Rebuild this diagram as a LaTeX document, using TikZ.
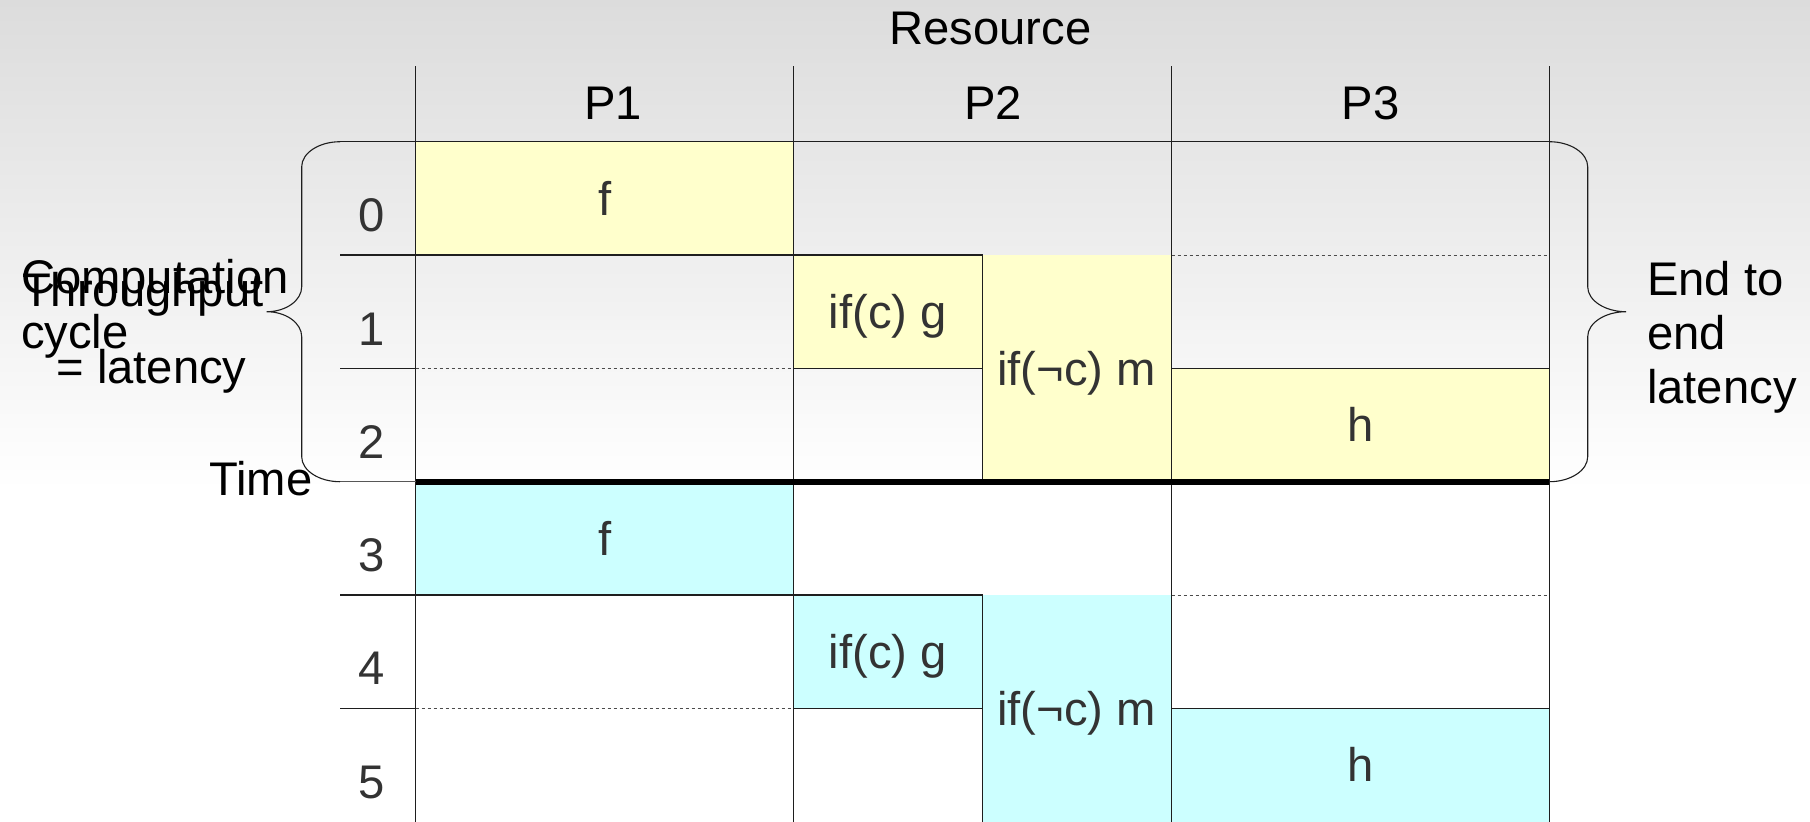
\documentclass[tikz,border=0pt]{standalone}
\usepackage{fontspec}
\setmainfont{Liberation Sans}
\definecolor{cellY}{HTML}{FFFFCC}
\definecolor{cellC}{HTML}{CCFFFF}
\definecolor{ink}{HTML}{333333}
\definecolor{rule}{HTML}{1E1E1E}
\definecolor{bgtop}{HTML}{DCDCDC}
\begin{document}
\begin{tikzpicture}[x=0.5pt,y=-0.5pt,
  txt/.style={inner sep=0pt, anchor=base, font=\fontsize{23.6}{27}\selectfont},
  txtl/.style={txt, anchor=base west},
  head/.style={txt, text=black},
  cell/.style={txt, text=ink},
  grid/.style={draw=rule, line width=0.55pt},
  faint/.style={draw=rule!75, line width=0.55pt},
  dotted row/.style={draw=rule!80, line width=0.5pt, dash pattern=on 1.6pt off 1.4pt},
  brace/.style={draw=rule, line width=0.55pt},
]
% page and background
\useasboundingbox (0,0) rectangle (1810,821);
\fill[white] (0,0) rectangle (1810,821);
\shade[top color=bgtop, bottom color=white] (0,0) rectangle (1810,490);

% first pass (yellow)
\fill[cellY] (415.7,141.7) rectangle (793.3,255);
\fill[cellY] (793.3,255) rectangle (982.4,368.3);
\fill[cellY] (982.4,255) rectangle (1171.7,481.7);
\fill[cellY] (1171.7,368.3) rectangle (1549.3,481.7);
% second pass (cyan)
\fill[cellC] (415.7,481.7) rectangle (793.3,595);
\fill[cellC] (793.3,595) rectangle (982.4,708.3);
\fill[cellC] (982.4,595) rectangle (1171.7,830);
\fill[cellC] (1171.7,708.3) rectangle (1549.3,830);

% cell borders
\foreach \dy in {0,340}{
  \draw[grid] (415.7,141.7+\dy) rectangle (793.3,255+\dy);
  \draw[grid] (793.3,255+\dy) rectangle (982.4,368.3+\dy);
  \draw[grid] (982.4,255+\dy) -- (982.4,481.7+\dy);
  \draw[grid] (1171.7,368.3+\dy) -- (1549.3,368.3+\dy);
}

% columns
\foreach \x in {415.7,793.3,1171.7,1549.3}
  \draw[grid] (\x,66) -- (\x,830);
% top rule
\draw[grid] (340,141.7) -- (1549.3,141.7);
% time column separators
\foreach \y in {255,368.3,595,708.3}
  \draw[grid] (340,\y) -- (415.7,\y);
\draw[faint] (340,481.7) -- (415.7,481.7);
% idle slots
\foreach \dy in {0,340}{
  \draw[dotted row] (1171.7,255+\dy) -- (1549.3,255+\dy);
  \draw[dotted row] (415.7,368.3+\dy) -- (793.3,368.3+\dy);
}
% iteration boundary
\draw[black, line width=3.2pt] (415.7,481.7) -- (1549.3,481.7);

% left brace
\draw[brace] (340,141.7) .. controls (319,141.7) and (301.7,153) .. (301.7,166.7)
  -- (301.7,286.7) .. controls (301.7,300.5) and (286,311.7) .. (266.7,311.7)
  .. controls (286,311.7) and (301.7,323) .. (301.7,336.7)
  -- (301.7,456.7) .. controls (301.7,470.5) and (319,481.7) .. (340,481.7);
% right brace
\draw[brace] (1549.3,141.7) .. controls (1570.4,141.7) and (1587.7,153) .. (1587.7,166.7)
  -- (1587.7,286.7) .. controls (1587.7,300.5) and (1605,311.7) .. (1626,311.7)
  .. controls (1605,311.7) and (1587.7,323) .. (1587.7,336.7)
  -- (1587.7,456.7) .. controls (1587.7,470.5) and (1570.4,481.7) .. (1549.3,481.7);

% headers
\node[head] (res) at (990.3,44.3) {Resource};
\node[head] (p1) at (613.3,119) {P1};
\node[head] (p2) at (993,119) {P2};
\node[head] (p3) at (1370.8,119) {P3};

% time steps
\foreach \t/\y in {0/231.7,1/345,2/458.3,3/571.6,4/684.9,5/798.2}
  \node[cell] (t\t) at (371.5,\y) {\t};

% tasks
\foreach \i/\dy in {0/0,1/340}{
  \node[cell] (f\i) at (605,215+\dy) {f};
  \node[cell] (g\i) at (887.7,328.3+\dy) {if(c) g};
  \node[cell] (m\i) at (1076.7,385+\dy) {if(¬c) m};
  \node[cell] (h\i) at (1360.8,441.7+\dy) {h};
}

% side annotations
\node[txtl] (comp) at (20.7,293.3) {Computation};
\node[txtl] (cyc) at (20.7,348.3) {cycle};
\node[txtl] (thr) at (21.7,306.7) {Throughput};
\node[txtl] (lat) at (56,383.3) {= latency};
\node[txtl] (time) at (209,495) {Time};
\node[txtl] (e1) at (1646.7,295) {End to};
\node[txtl] (e2) at (1646.7,349.3) {end};
\node[txtl] (e3) at (1646.7,403.3) {latency};
\end{tikzpicture}
\end{document}
